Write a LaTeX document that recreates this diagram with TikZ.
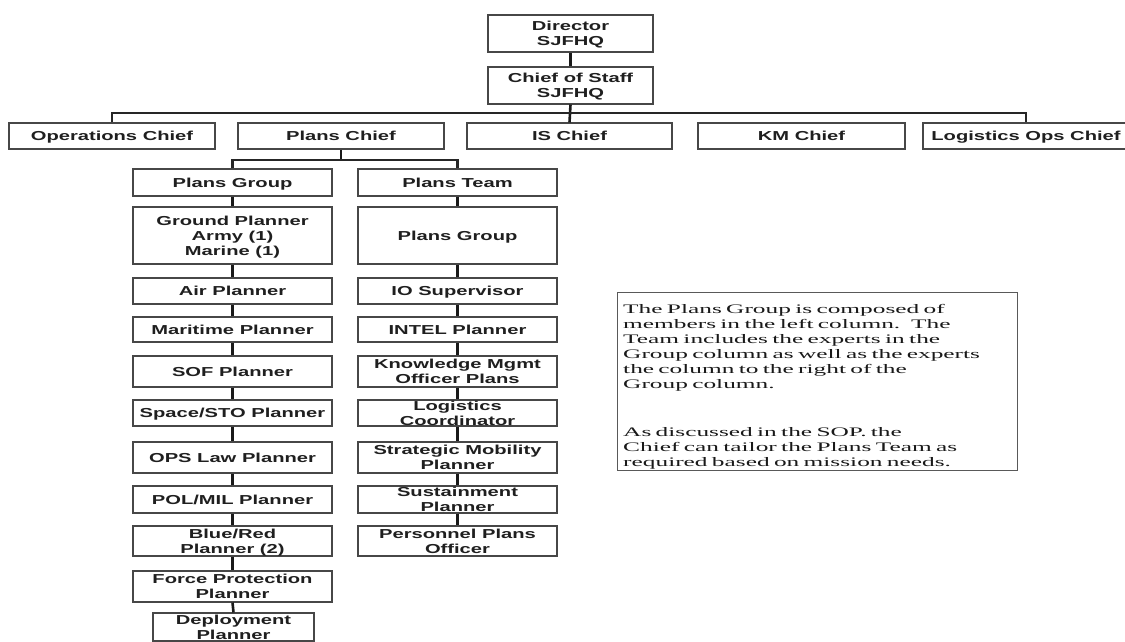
\documentclass[tikz,border=0pt]{standalone}
\usepackage{fontspec}
\newfontfamily\boxfont[FakeStretch=1.55]{Liberation Sans}
\newfontfamily\notefont[FakeStretch=1.95]{Liberation Serif}
% centred stack of lines inside an org-chart box
\newcommand\bx[1]{\begin{tabular}{@{}c@{}}#1\end{tabular}}
\tikzset{
  orgbox/.style={draw=black!72, line width=1.1pt, fill=white,
    inner sep=0pt, text=black!88,
    font=\boxfont\bfseries\fontsize{13}{15}\selectfont,
    text height=9.8pt, text depth=0pt},
  link/.style={line width=2.6pt, draw=black!90},
  hbar/.style={line width=2.2pt, draw=black!85},
  notebox/.style={draw=black!65, line width=1pt, inner sep=0pt},
  notetext/.style={align=left, text width=390pt, inner sep=0pt, text=black!90,
    font=\notefont\fontsize{13}{15}\selectfont}
}
\begin{document}
\begin{tikzpicture}[x=1pt, y=-1pt]
\clip (0,0) rectangle (1125,642);
\fill[white] (0,0) rectangle (1125,642);

% command level
\node[orgbox, minimum width=165pt, minimum height=37pt] (dir) at (570.5,33.5) {\bx{Director\\SJFHQ}};
\node[orgbox, minimum width=165pt, minimum height=37pt] (cos) at (570.5,85.5) {\bx{Chief of Staff\\SJFHQ}};

% chiefs
\node[orgbox, minimum width=206pt, minimum height=26pt] (ops)   at (112,136)    {\bx{Operations Chief}};
\node[orgbox, minimum width=206pt, minimum height=26pt] (plans) at (341,136)    {\bx{Plans Chief}};
\node[orgbox, minimum width=205pt, minimum height=26pt] (is)    at (569.5,136)  {\bx{IS Chief}};
\node[orgbox, minimum width=207pt, minimum height=26pt] (km)    at (801.5,136)  {\bx{KM Chief}};
\node[orgbox, minimum width=206pt, minimum height=26pt] (log)   at (1026,136)   {\bx{Logistics Ops Chief}};

% plans group column
\node[orgbox, minimum width=199pt, minimum height=27pt] (pg)      at (232.5,182.5) {\bx{Plans Group}};
\node[orgbox, minimum width=199pt, minimum height=57pt] (ground)  at (232.5,235.5) {\bx{Ground Planner\\Army (1)\\Marine (1)}};
\node[orgbox, minimum width=199pt, minimum height=26pt] (air)     at (232.5,291)   {\bx{Air Planner}};
\node[orgbox, minimum width=199pt, minimum height=25pt] (mar)     at (232.5,329.5) {\bx{Maritime Planner}};
\node[orgbox, minimum width=199pt, minimum height=31pt] (sof)     at (232.5,371.5) {\bx{SOF Planner}};
\node[orgbox, minimum width=199pt, minimum height=26pt] (space)   at (232.5,413)   {\bx{Space/STO Planner}};
\node[orgbox, minimum width=199pt, minimum height=31pt] (opslaw)  at (232.5,457.5) {\bx{OPS Law Planner}};
\node[orgbox, minimum width=199pt, minimum height=27pt] (polmil)  at (232.5,499.5) {\bx{POL/MIL Planner}};
\node[orgbox, minimum width=199pt, minimum height=30pt] (bluered) at (232.5,541)   {\bx{Blue/Red\\Planner (2)}};
\node[orgbox, minimum width=199pt, minimum height=31pt] (fp)      at (232.5,586.5) {\bx{Force Protection\\Planner}};
\node[orgbox, minimum width=161pt, minimum height=28pt] (dep)     at (233.5,627)   {\bx{Deployment\\Planner}};

% plans team column
\node[orgbox, minimum width=199pt, minimum height=27pt] (pt)     at (457.5,182.5) {\bx{Plans Team}};
\node[orgbox, minimum width=199pt, minimum height=57pt] (ptg)    at (457.5,235.5) {\bx{Plans Group}};
\node[orgbox, minimum width=199pt, minimum height=26pt] (io)     at (457.5,291)   {\bx{IO Supervisor}};
\node[orgbox, minimum width=199pt, minimum height=25pt] (intel)  at (457.5,329.5) {\bx{INTEL Planner}};
\node[orgbox, minimum width=199pt, minimum height=31pt] (kmo)    at (457.5,371.5) {\bx{Knowledge Mgmt\\Officer Plans}};
\node[orgbox, minimum width=199pt, minimum height=26pt] (logc)   at (457.5,413)   {\bx{Logistics\\Coordinator}};
\node[orgbox, minimum width=199pt, minimum height=31pt] (strat)  at (457.5,457.5) {\bx{Strategic Mobility\\Planner}};
\node[orgbox, minimum width=199pt, minimum height=27pt] (sust)   at (457.5,499.5) {\bx{Sustainment\\Planner}};
\node[orgbox, minimum width=199pt, minimum height=30pt] (pers)   at (457.5,541)   {\bx{Personnel Plans\\Officer}};

% bus lines
\coordinate (topbar) at (0,113);
\coordinate (subbar) at (0,160);

\draw[link] (dir.south) -- (cos.north);
\draw[link] (cos.south) -- (is.north);
\draw[hbar] (ops.north) -- (ops.north |- topbar) -- (log.north |- topbar) -- (log.north);
\draw[link] (plans.south) -- (plans.south |- subbar);
\draw[hbar] (pg.north) -- (pg.north |- subbar) -- (pt.north |- subbar) -- (pt.north);

\foreach \a/\b in {pg/ground, ground/air, air/mar, mar/sof, sof/space, space/opslaw,
                   opslaw/polmil, polmil/bluered, bluered/fp, fp/dep,
                   pt/ptg, ptg/io, io/intel, intel/kmo, kmo/logc, logc/strat,
                   strat/sust, sust/pers}
  \draw[link] (\a.south) -- (\b.north);

% explanatory note
\node[notebox, minimum width=400pt, minimum height=178pt] (note) at (817,381) {};
\node[notetext, anchor=north west] (notetxt) at (623,304) {The Plans Group is composed of\\
members in the left column.~ The\\
Team includes the experts in the\\
Group column as well as the experts\\
the column to the right of the\\
Group column.\\[33pt]
As discussed in the SOP. the\\
Chief can tailor the Plans Team as\\
required based on mission needs.};
\end{tikzpicture}
\end{document}
